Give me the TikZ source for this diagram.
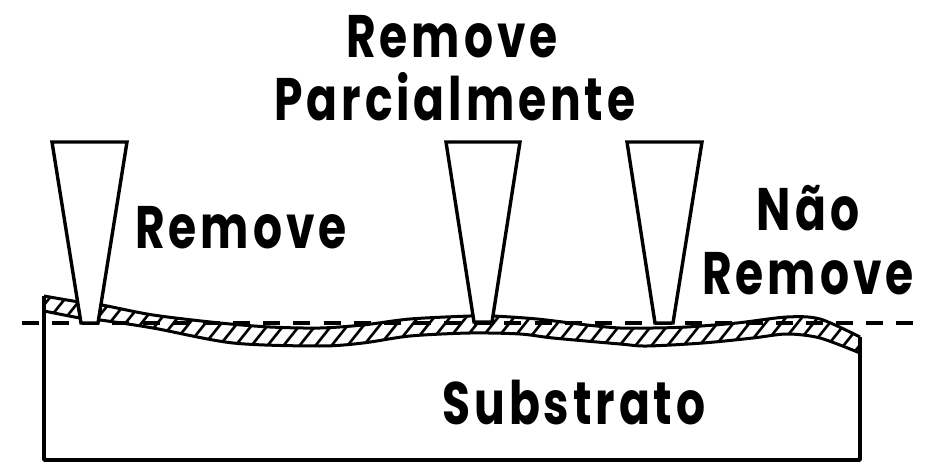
\documentclass[tikz,border=0pt]{standalone}
\usepackage{fontspec}
\setmainfont{Poppins}[LetterSpace=6.5,FakeStretch=0.76]
\tikzset{
  ln/.style={line width=3.4pt,line join=round,black},
  bandln/.style={line width=3pt,line join=round,black},
  thinln/.style={line width=2.6pt,black},
  tool/.style={ln,fill=white,line join=miter},
  lbl/.style={font=\fontsize{60}{60}\selectfont\bfseries,inner sep=0pt,anchor=base,text=black},
}
\def\topcurve{(44,296) (79,302) (102,305) (153,315) (220,323) (270,327) (320,328) (363,325) (410,319) (470,316) (493,316) (537,319) (587,325) (620,328) (653,328) (687,327) (737,323) (787,317) (820,319) (860,337)}
\def\botcurve{(44,311) (80,318) (100,320) (153,328) (233,343) (320,346) (363,343) (410,336) (470,333) (520,334) (553,338) (620,344) (647,346) (703,343) (753,338) (787,334) (820,338) (860,353)}
\begin{document}
\begin{tikzpicture}[x=1pt,y=-1pt]
\useasboundingbox (0,0) rectangle (938,476);
% hatching clipped to the band
\begin{scope}
  \clip plot[smooth,tension=0.5] coordinates {\topcurve} -- (860,353) -- plot[smooth,tension=0.5] coordinates {(860,353) (820,338) (787,334) (753,338) (703,343) (647,346) (620,344) (553,338) (520,334) (470,333) (410,336) (363,343) (320,346) (233,343) (153,328) (100,320) (80,318) (44,311)} -- cycle;
  \foreach \x in {0,16,...,880} \draw[thinln] (\x,360) -- ++(56,-70);
\end{scope}
% band outline
\draw[bandln] plot[smooth,tension=0.5] coordinates {\topcurve};
\draw[bandln] plot[smooth,tension=0.5] coordinates {\botcurve};
% substrate
\draw[ln] (44,296) -- (44,460) -- (860,460) -- (860,337);
% reference level
\draw[ln,dash pattern=on 17pt off 13.15pt] (22,323) -- (916,323);
% tools
\draw[tool] (52,142) -- (127,142) -- (98,323) -- (81,323) -- cycle;
\draw[tool] (446,142) -- (520,142) -- (492,322) -- (474,322) -- cycle;
\draw[tool] (627,142) -- (702,142) -- (673,323) -- (655,323) -- cycle;
% labels
\node[lbl] (t1) at (452,58) {Remove};
\node[lbl] (t2) at (455,121) {Parcialmente};
\node[lbl] (t3) at (241,248) {Remove};
\node[lbl] (t4) at (808,231) {Não};
\node[lbl] (t5) at (808,294) {Remove};
\node[lbl] (t6) at (574,424) {Substrato};
\end{tikzpicture}
\end{document}
